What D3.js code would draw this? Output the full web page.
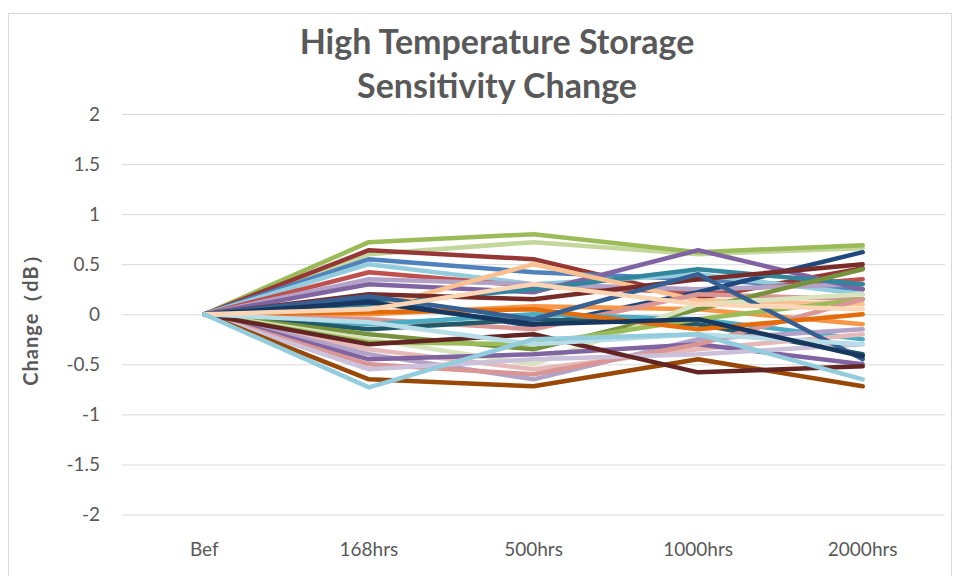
<!DOCTYPE html>
<html><head><meta charset="utf-8">
<script src="https://cdn.jsdelivr.net/npm/d3@7"></script>
<style>
html,body{margin:0;padding:0;background:#fff;}
svg{display:block;}
text{font-family:Lato,"Open Sans",sans-serif;}
</style></head>
<body><svg id="c" width="960" height="576"></svg>
<script>
const categories = ["Bef","168hrs","500hrs","1000hrs","2000hrs"];
const yTicks = [2,1.5,1,0.5,0,-0.5,-1,-1.5,-2];
const titleLines = ["High Temperature Storage","Sensitivity Change"];
const yLabel = "Change（dB）";
// each series: values at Bef,168hrs,500hrs,1000hrs,2000hrs
const seriesColors = [
 "#C3D69B","#9BBB59","#953735","#4F81BD","#93CDDD","#C0504D","#B3A2C7","#8064A2",
 "#1F497D","#31859C","#FAC090","#F79646","#D99694","#4BACC6","#215968","#76923C",
 "#D7E4BD","#9BBB59","#E6B9B8","#B3A2C7","#8064A2","#D99694","#CCC1DA","#984807",
 "#632523","#E46C0A","#772C2A","#366092","#B7DEE8","#17375E","#FCD5B5","#93CDDD"
];
const seriesValues = [
 [0, 0.60, 0.72, 0.60, 0.66],
 [0, 0.72, 0.80, 0.62, 0.69],
 [0, 0.64, 0.55, 0.16, 0.46],
 [0, 0.55, 0.42, 0.35, 0.25],
 [0, 0.50, 0.30, 0.40, 0.20],
 [0, 0.42, 0.28, 0.22, 0.35],
 [0, 0.35, 0.30, 0.25, 0.30],
 [0, 0.30, 0.22, 0.64, 0.25],
 [0, 0.15, -0.12, 0.22, 0.62],
 [0, 0.10, 0.25, 0.45, 0.30],
 [0, 0.05, 0.50, 0.14, 0.10],
 [0, 0.00, 0.08, 0.05, -0.10],
 [0, -0.05, -0.15, 0.20, 0.15],
 [0, -0.10, 0.00, -0.05, -0.25],
 [0, -0.15, -0.05, -0.10, -0.40],
 [0, -0.20, -0.35, 0.05, 0.45],
 [0, -0.25, -0.50, 0.10, 0.20],
 [0, -0.28, -0.30, -0.05, 0.15],
 [0, -0.35, -0.55, -0.35, -0.20],
 [0, -0.40, -0.65, -0.25, -0.15],
 [0, -0.45, -0.40, -0.30, -0.50],
 [0, -0.50, -0.60, -0.30, 0.15],
 [0, -0.55, -0.45, -0.40, -0.30],
 [0, -0.65, -0.72, -0.45, -0.72],
 [0, -0.30, -0.20, -0.58, -0.52],
 [0, 0.02, 0.05, -0.15, 0.00],
 [0, 0.20, 0.15, 0.35, 0.50],
 [0, 0.18, -0.05, 0.40, -0.45],
 [0, -0.08, -0.30, -0.20, -0.30],
 [0, 0.12, -0.10, -0.05, -0.42],
 [0, 0.05, 0.30, 0.10, 0.05],
 [0, -0.73, -0.25, -0.20, -0.65]
];

(function(){
const svg = d3.select("#c");
const pL = 122, pR = 945, pT = 114, pB = 514.5;
const x = d3.scaleBand().domain(categories).range([pL, pR]);
const y = d3.scaleLinear().domain([-2, 2]).range([pB, pT]);

svg.append("rect").attr("x", 8.5).attr("y", 13.5).attr("width", 943).attr("height", 580)
  .attr("fill", "#fff").attr("stroke", "#d9d9d9").attr("stroke-width", 1);

const yAxis = d3.axisLeft(y).tickValues(yTicks).tickSize(-(pR - pL)).tickPadding(22)
  .tickFormat(d => String(d));
const gy = svg.append("g").attr("transform", `translate(${pL},0)`).call(yAxis);
gy.select(".domain").remove();
gy.selectAll(".tick line").attr("stroke", "#d9d9d9").attr("stroke-width", 1);
gy.selectAll(".tick text").attr("fill", "#595959").style("font-size", "19px")
  .style("font-family", "Lato, 'Open Sans', sans-serif");

const xAxis = d3.axisBottom(x).tickSize(0).tickPadding(28);
const gx = svg.append("g").attr("transform", `translate(0,${pB})`).call(xAxis);
gx.select(".domain").remove();
gx.selectAll(".tick text").attr("fill", "#595959").style("font-size", "19px")
  .style("font-family", "Lato, 'Open Sans', sans-serif");

const line = d3.line().x((d, i) => x(categories[i]) + x.bandwidth() / 2).y(d => y(d));
svg.append("g").selectAll("path").data(seriesValues).join("path")
  .attr("d", d => line(d)).attr("fill", "none")
  .attr("stroke", (d, i) => seriesColors[i]).attr("stroke-width", 4.5)
  .attr("stroke-linejoin", "round").attr("stroke-linecap", "round");

svg.append("g").selectAll("text").data(titleLines).join("text")
  .attr("x", 497).attr("y", (d, i) => 54 + i * 44)
  .attr("text-anchor", "middle").attr("fill", "#595959")
  .style("font-size", "34px").style("font-weight", "bold").text(d => d);

svg.append("text").attr("transform", "translate(38,315) rotate(-90)")
  .attr("text-anchor", "middle").attr("fill", "#595959")
  .style("font-size", "20px").style("font-weight", "bold")
  .style("letter-spacing", "1px").text(yLabel);
})();
</script></body></html>
